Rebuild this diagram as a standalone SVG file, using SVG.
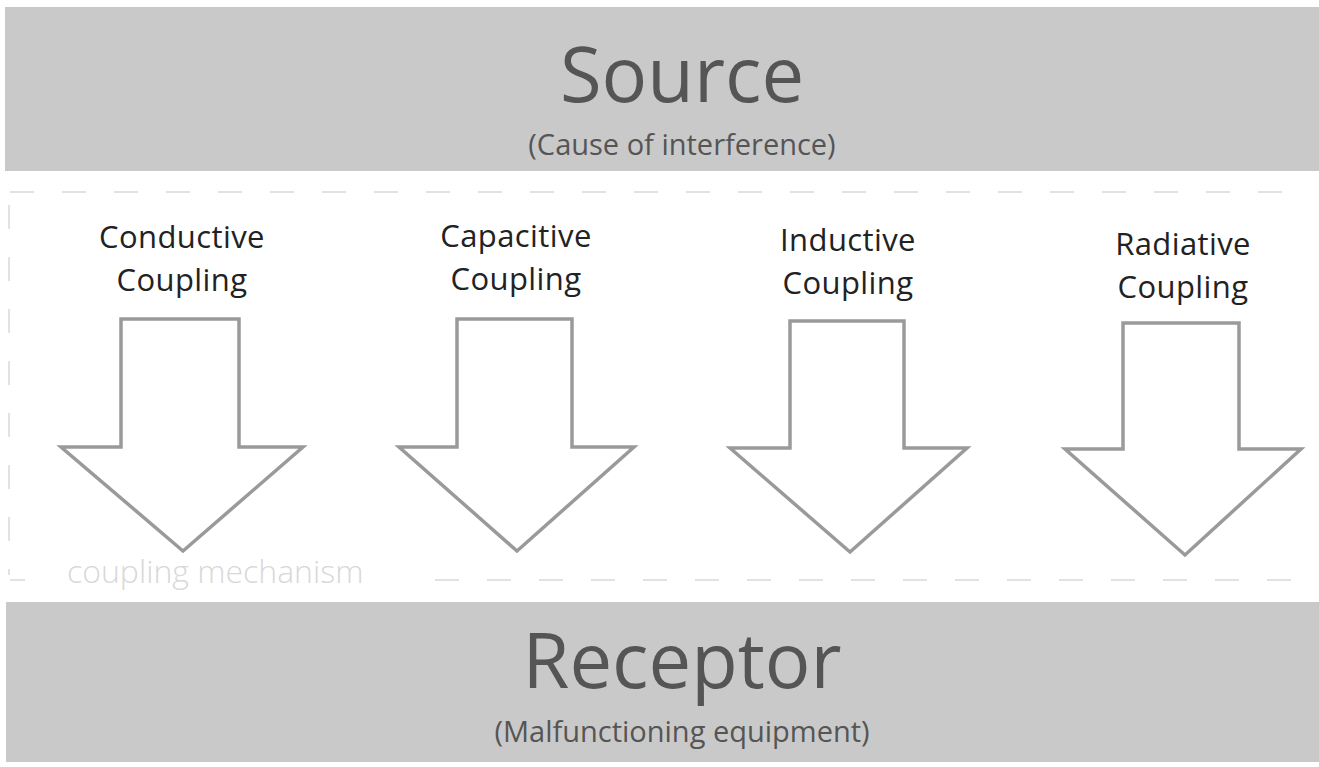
<svg xmlns="http://www.w3.org/2000/svg" width="1319" height="767" viewBox="0 0 1319 767">
<style>
.band{fill:#c9c9c9}
.title{font-family:"Open Sans","Noto Sans",sans-serif;fill:#555;text-anchor:middle}
.big{font-size:76px}
.lbl{font-family:"Open Sans","Noto Sans",sans-serif;font-size:31px;letter-spacing:0.4px;fill:#222;text-anchor:middle}
.arrow{fill:#fff;stroke:#9a9a9a;stroke-width:3.5;stroke-linejoin:miter}
.dash{stroke:#d9d9d9;stroke-width:1.5;stroke-dasharray:24 28;fill:none}
.mech{font-family:"Open Sans","Noto Sans",sans-serif;font-weight:300;font-size:32px;fill:#d8d8d8}
</style>
<rect width="1319" height="767" fill="#fff"/>
<g id="source">
<rect class="band" x="5" y="7" width="1314" height="164"/>
<text class="title big" x="682" y="102">Source</text>
<text class="title" x="682" y="155" font-size="29">(Cause of interference)</text>
</g>
<g id="coupling-mechanism">
<line class="dash" x1="10" y1="192" x2="1310" y2="192"/>
<line class="dash" x1="9" y1="205" x2="9" y2="575"/>
<line class="dash" x1="10" y1="580" x2="25" y2="580"/>
<line class="dash" x1="435" y1="580" x2="1300" y2="580"/>
<text class="mech" x="67" y="583">coupling mechanism</text>
</g>
<g id="conductive">
<text class="lbl" x="182" y="248">Conductive</text>
<text class="lbl" x="182" y="291">Coupling</text>
<polygon class="arrow" points="121,319 239,319 239,447 303,447 183,551 61,447 121,447"/>
</g>
<g id="capacitive">
<text class="lbl" x="516" y="247">Capacitive</text>
<text class="lbl" x="516" y="290">Coupling</text>
<polygon class="arrow" points="457,319 572,319 572,447 634,447 517,551 399,447 457,447"/>
</g>
<g id="inductive">
<text class="lbl" x="848" y="251">Inductive</text>
<text class="lbl" x="848" y="294">Coupling</text>
<polygon class="arrow" points="790,321 904,321 904,448 967,448 850,552 730,448 790,448"/>
</g>
<g id="radiative">
<text class="lbl" x="1183" y="255">Radiative</text>
<text class="lbl" x="1183" y="298">Coupling</text>
<polygon class="arrow" points="1123,323 1239,323 1239,449 1301,449 1185,555 1065,449 1123,449"/>
</g>
<g id="receptor">
<rect class="band" x="6" y="602" width="1313" height="160"/>
<text class="title big" x="682" y="688">Receptor</text>
<text class="title" x="682" y="742" font-size="29">(Malfunctioning equipment)</text>
</g>
</svg>
